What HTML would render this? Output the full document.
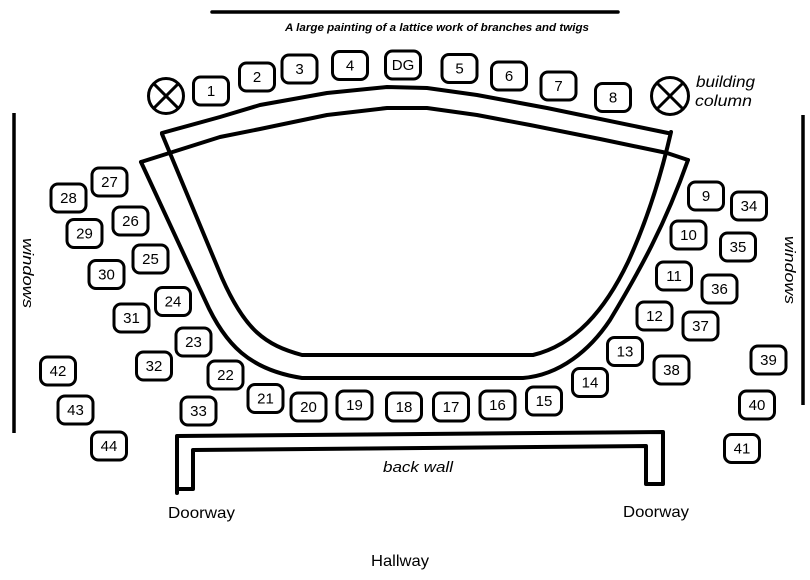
<!DOCTYPE html>
<html>
<head>
<meta charset="utf-8">
<style>
html,body{margin:0;padding:0;background:#fff;}
svg{display:block;}
text{font-family:"Liberation Sans",Arial,sans-serif;fill:#000;}
.b rect{fill:#fff;stroke:#000;stroke-width:3;}
.b text{font-size:15px;text-anchor:middle;}
.ln{fill:none;stroke:#000;stroke-width:4;stroke-linejoin:round;stroke-linecap:round;}
</style>
</head>
<body>
<svg id="s" width="810" height="580" viewBox="0 0 810 580" xmlns="http://www.w3.org/2000/svg">
<rect width="810" height="580" fill="#fff"/>
<line x1="212" y1="12" x2="618" y2="12" stroke="#000" stroke-width="3.5" stroke-linecap="round"/>
<text x="285" y="31" font-size="11" font-weight="bold" font-style="italic" textLength="304" lengthAdjust="spacingAndGlyphs">A large painting of a lattice work of branches and twigs</text>
<line x1="14" y1="113" x2="14" y2="433" stroke="#000" stroke-width="3.5"/>
<line x1="803" y1="115" x2="803" y2="405" stroke="#000" stroke-width="3.5"/>
<text transform="translate(23,238) rotate(90)" font-size="15" font-style="italic" textLength="70" lengthAdjust="spacingAndGlyphs">windows</text>
<text transform="translate(785,236) rotate(90)" font-size="15" font-style="italic" textLength="68" lengthAdjust="spacingAndGlyphs">windows</text>
<g fill="none" stroke="#000" stroke-width="3">
<circle cx="166" cy="96" r="17.5"/>
<line x1="153.6" y1="83.6" x2="178.4" y2="108.4"/>
<line x1="178.4" y1="83.6" x2="153.6" y2="108.4"/>
<circle cx="670" cy="96" r="18.5"/>
<line x1="657" y1="83" x2="683" y2="109"/>
<line x1="683" y1="83" x2="657" y2="109"/>
</g>
<text x="696" y="87" font-size="16" font-style="italic" textLength="59" lengthAdjust="spacingAndGlyphs">building</text>
<text x="695" y="106" font-size="16" font-style="italic" textLength="57" lengthAdjust="spacingAndGlyphs">column</text>
<polyline class="ln" points="162,133 220,117 260,105 327,93 387,87 427,88 477,95 520,103 547,108 668,133"/>
<polyline class="ln" points="141,162 220,137 260,129 327,115 387,108 427,108 477,115 530,125 600,139 667,153 688,160"/>
<path class="ln" d="M162,134 L222,278 C245,330 265,345 302,355 L533,355 C575,345 605,310 628,262 C645,225 660,180 671,132"/>
<path class="ln" d="M141,162 L205,300 C225,345 250,370 302,378 L523,378 C560,375 590,350 610,320 C640,270 665,225 688,160"/>
<path class="ln" d="M177,493 L177,436 L663,432 L663,484 L646,484 L646,446 L193,450 L193,489 L177,489" stroke-width="3.5"/>
<text x="383" y="472" font-size="15" font-style="italic" textLength="70" lengthAdjust="spacingAndGlyphs">back wall</text>
<text x="168" y="518" font-size="16" textLength="67" lengthAdjust="spacingAndGlyphs">Doorway</text>
<text x="623" y="517" font-size="16" textLength="66" lengthAdjust="spacingAndGlyphs">Doorway</text>
<text x="371" y="566" font-size="16" textLength="58" lengthAdjust="spacingAndGlyphs">Hallway</text>
<g class="b" id="boxes"></g>
</svg>
<script>
var d=[["1",211,91],["2",257,77],["3",299.5,69],["4",350,65.5],["DG",403,65],["5",459.5,68.5],["6",509,76],["7",558.5,86],["8",613,97.5],
["9",706,196],["10",688.5,235],["11",674,276],["12",654.5,316],["13",625,351.5],["14",590,382.5],["15",544,401],["16",497.5,405],["17",451,407],["18",404,407],["19",354.5,405],["20",308.5,407],["21",265.5,398.5],["22",225.5,375],["23",193.5,342],["24",173,301.5],["25",150.5,259],["26",130.5,221],["27",109.5,182],["28",68.5,198],["29",84.5,233.5],["30",106.5,274.5],["31",131.5,318],["32",154,366],["33",198.5,411],["34",749,206],["35",738,247],["36",719.5,289],["37",700.5,326],["38",671.5,370],["39",768.5,360],["40",757,405],["41",742,448.5],["42",58,371],["43",75.5,410],["44",109,446]];
var g=document.getElementById("boxes"),h="";
for(var i=0;i<d.length;i++){h+='<g transform="translate('+d[i][1]+','+d[i][2]+')"><rect x="-17.5" y="-14" width="35" height="28" rx="7"/><text y="5">'+d[i][0]+'</text></g>';}
g.innerHTML=h;
</script>
</body>
</html>
